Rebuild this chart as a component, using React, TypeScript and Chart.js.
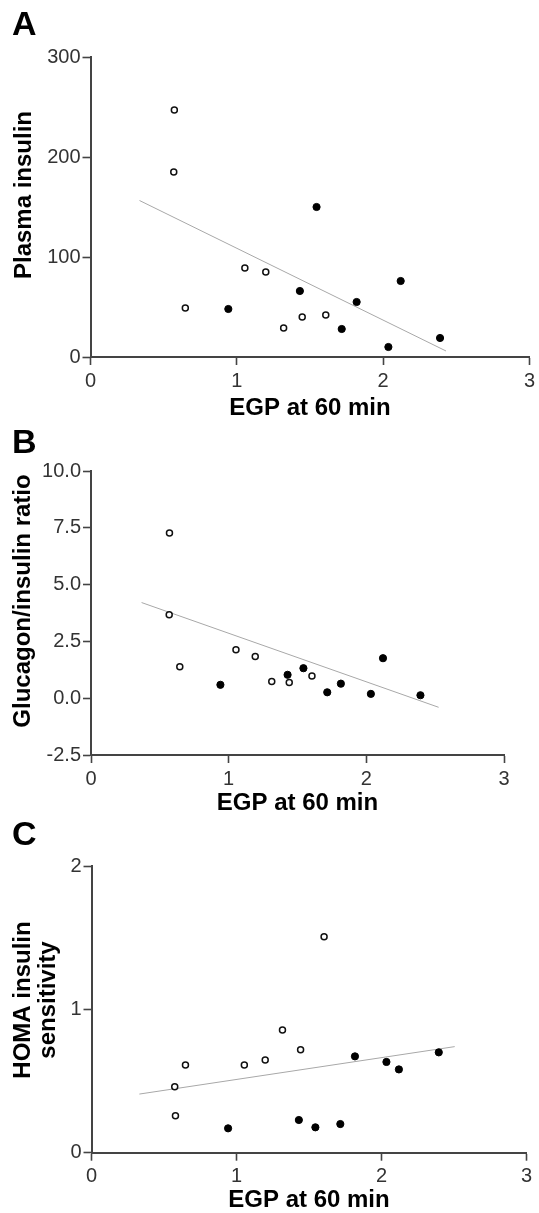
import React, { useEffect, useRef } from 'react';
import { Chart, registerables } from 'chart.js';

Chart.register(...registerables);

// ---------- Data ----------
const xTicks = [0, 1, 2, 3];

// Panel A: Plasma insulin
const aOpenX = [0.573, 0.569, 0.648, 1.055, 1.198, 1.32, 1.447, 1.608];
const aOpenY = [247, 185, 49, 89, 85, 29, 40, 42];
const aFilledX = [0.942, 1.431, 1.545, 1.717, 1.819, 2.036, 2.12, 2.389];
const aFilledY = [48, 66, 150, 28, 55, 10, 76, 19];
const aFitX = [0.335, 2.43];
const aFitY = [156.5, 6];
const aYTicks = [0, 100, 200, 300];

// Panel B: Glucagon/insulin ratio
const bOpenX = [0.57, 0.568, 0.645, 1.053, 1.193, 1.313, 1.44, 1.605];
const bOpenY = [7.27, 3.67, 1.38, 2.13, 1.83, 0.73, 0.69, 0.98];
const bFilledX = [0.94, 1.428, 1.543, 1.716, 1.815, 2.033, 2.121, 2.393];
const bFilledY = [0.59, 1.03, 1.32, 0.26, 0.64, 0.19, 1.76, 0.13];
const bFitX = [0.3675, 2.525];
const bFitY = [4.21, -0.4];
const bYTicks = [-2.5, 0, 2.5, 5, 7.5, 10];

// Panel C: HOMA insulin sensitivity
const cOpenX = [0.579, 0.574, 0.648, 1.054, 1.198, 1.317, 1.442, 1.604];
const cOpenY = [0.258, 0.46, 0.612, 0.612, 0.647, 0.856, 0.719, 1.507];
const cFilledX = [0.942, 1.43, 1.544, 1.716, 1.817, 2.034, 2.12, 2.395];
const cFilledY = [0.17, 0.228, 0.177, 0.2, 0.672, 0.633, 0.581, 0.7];
const cFitX = [0.33, 2.505];
const cFitY = [0.409, 0.74];
const cYTicks = [0, 1, 2];

const xTitle = 'EGP at 60 min';

type Panel = {
  letter: string;
  top: number;
  height: number;
  L: number;
  R: number;
  CT: number;
  CB: number;
  yTicks: number[];
  yDecimals: number;
  openX: number[];
  openY: number[];
  filledX: number[];
  filledY: number[];
  fitX: number[];
  fitY: number[];
  yTitle: string[];
  yTitleX: number[];
  yTitleCY: number;
  letterBaseline: number;
  xTitlePad: number;
};

const W = 539;

const panels: Panel[] = [
  {
    letter: 'A', top: 0, height: 425, L: 90.5, R: 533.5, CT: 57, CB: 357,
    yTicks: aYTicks, yDecimals: 0,
    openX: aOpenX, openY: aOpenY, filledX: aFilledX, filledY: aFilledY, fitX: aFitX, fitY: aFitY,
    yTitle: ['Plasma insulin'], yTitleX: [30.5], yTitleCY: 195, letterBaseline: 35, xTitlePad: 5,
  },
  {
    letter: 'B', top: 425, height: 395, L: 91, R: 504, CT: 471, CB: 755,
    yTicks: bYTicks, yDecimals: 1,
    openX: bOpenX, openY: bOpenY, filledX: bFilledX, filledY: bFilledY, fitX: bFitX, fitY: bFitY,
    yTitle: ['Glucagon/insulin ratio'], yTitleX: [30], yTitleCY: 601, letterBaseline: 453, xTitlePad: 5,
  },
  {
    letter: 'C', top: 810, height: 403, L: 91.5, R: 526.5, CT: 866, CB: 1152.7,
    yTicks: cYTicks, yDecimals: 0,
    openX: cOpenX, openY: cOpenY, filledX: cFilledX, filledY: cFilledY, fitX: cFitX, fitY: cFitY,
    yTitle: ['HOMA insulin', 'sensitivity'], yTitleX: [30, 55], yTitleCY: 1000, letterBaseline: 845, xTitlePad: 1,
  },
];

const FONT = '"Liberation Sans", Arial, Helvetica, sans-serif';

function PanelChart({ p }: { p: Panel }) {
  const ref = useRef<HTMLCanvasElement | null>(null);
  useEffect(() => {
    if (!ref.current) return;
    const yMin = p.yTicks[0];
    const yMax = p.yTicks[p.yTicks.length - 1];
    const yStep = p.yTicks[1] - p.yTicks[0];
    const textPlugin = {
      id: 'panelText',
      afterDraw(chart: any) {
        const ctx = chart.ctx;
        ctx.save();
        ctx.fillStyle = '#000';
        ctx.font = `bold 34px ${FONT}`;
        ctx.textAlign = 'left';
        ctx.textBaseline = 'alphabetic';
        ctx.fillText(p.letter, 12, p.letterBaseline - p.top);
        ctx.font = `bold 24px ${FONT}`;
        ctx.textAlign = 'center';
        p.yTitle.forEach((t, i) => {
          ctx.save();
          ctx.translate(p.yTitleX[i], p.yTitleCY - p.top);
          ctx.rotate(-Math.PI / 2);
          ctx.fillText(t, 0, 0);
          ctx.restore();
        });
        ctx.restore();
      },
    };
    const chart = new Chart(ref.current, {
      type: 'scatter',
      data: {
        datasets: [
          {
            label: 'open',
            data: p.openX.map((x, i) => ({ x, y: p.openY[i] })),
            pointRadius: 3,
            pointBorderWidth: 1.5,
            pointBackgroundColor: '#ffffff',
            pointBorderColor: '#111111',
          },
          {
            label: 'filled',
            data: p.filledX.map((x, i) => ({ x, y: p.filledY[i] })),
            pointRadius: 3.6,
            pointBorderWidth: 1,
            pointBackgroundColor: '#000000',
            pointBorderColor: '#000000',
          },
          {
            label: 'fit',
            data: p.fitX.map((x, i) => ({ x, y: p.fitY[i] })),
            showLine: true,
            borderColor: '#a8a8a8',
            borderWidth: 1,
            pointRadius: 0,
          } as any,
        ],
      },
      options: {
        responsive: false,
        animation: false,
        events: [],
        layout: { padding: { left: 0, top: p.CT - p.top, right: W - p.R, bottom: 0 } },
        plugins: { legend: { display: false }, tooltip: { enabled: false }, title: { display: false } },
        scales: {
          x: {
            type: 'linear',
            min: 0,
            max: 3,
            afterBuildTicks: (s: any) => { s.ticks = xTicks.map((v) => ({ value: v })); },
            afterFit: (s: any) => { s.height = p.top + p.height - p.CB; },
            grid: { drawOnChartArea: false, drawTicks: true, tickLength: 8, color: '#444', tickWidth: 1.6 },
            border: { display: true, color: '#444', width: 2 },
            ticks: { font: { size: 20, family: FONT }, color: '#333', padding: 4, maxRotation: 0, callback: (v: any) => String(v) },
            title: {
              display: true,
              text: xTitle,
              color: '#000',
              font: { size: 24, weight: 'bold', family: FONT, lineHeight: 1 },
              padding: { top: 0, bottom: p.xTitlePad },
            },
          },
          y: {
            type: 'linear',
            min: yMin,
            max: yMax,
            ticks: {
              stepSize: yStep,
              font: { size: 20, family: FONT },
              color: '#333',
              padding: 2,
              callback: (v: any) => Number(v).toFixed(p.yDecimals),
            },
            afterBuildTicks: (s: any) => { s.ticks = p.yTicks.map((v) => ({ value: v })); },
            afterFit: (s: any) => { s.width = p.L; },
            grid: { drawOnChartArea: false, drawTicks: true, tickLength: 8, color: '#444', tickWidth: 1.6 },
            border: { display: true, color: '#444', width: 2 },
          },
        },
      },
      plugins: [textPlugin],
    } as any);
    return () => chart.destroy();
  }, [p]);
  return (
    <canvas
      ref={ref}
      width={W}
      height={p.height}
      style={{ position: 'absolute', left: 0, top: p.top, width: W, height: p.height }}
    />
  );
}

export default function App() {
  return (
    <div style={{ position: 'absolute', left: 0, top: 0, width: W, height: 1213, background: '#fff' }}>
      {panels.map((p) => (
        <PanelChart key={p.letter} p={p} />
      ))}
    </div>
  );
}
